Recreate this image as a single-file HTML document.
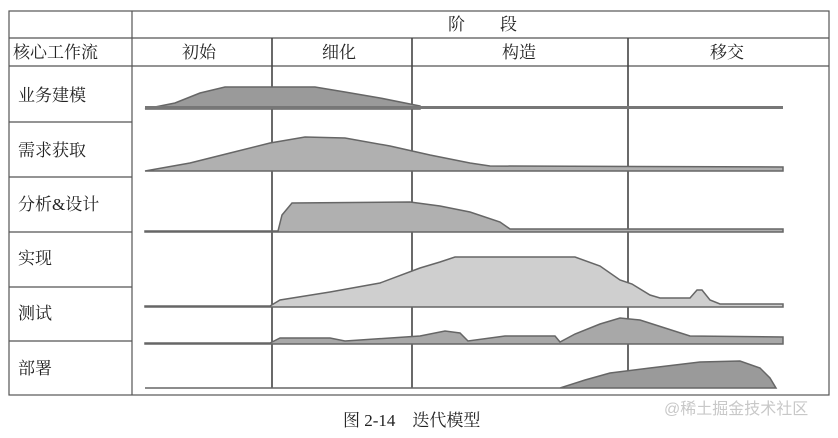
<!DOCTYPE html>
<html><head><meta charset="utf-8"><style>
body{margin:0;background:#fff;width:838px;height:433px;overflow:hidden;font-family:"Liberation Serif","Noto Serif CJK SC",serif}
svg text{font-family:"Liberation Serif","Noto Serif CJK SC",serif;fill:#222}
</style></head><body>
<svg width="838" height="433" viewBox="0 0 838 433">
<g stroke="#555" stroke-width="1.2" fill="none">
<rect x="9" y="11" width="820" height="384"/>
<line x1="132" y1="11" x2="132" y2="395"/>
<line x1="9" y1="38" x2="829" y2="38"/>
<line x1="9" y1="66" x2="829" y2="66"/>
<line x1="9" y1="122" x2="132" y2="122"/>
<line x1="9" y1="177" x2="132" y2="177"/>
<line x1="9" y1="232" x2="132" y2="232"/>
<line x1="9" y1="287" x2="132" y2="287"/>
<line x1="9" y1="341" x2="132" y2="341"/>
</g>
<g stroke="#444" stroke-width="1.6">
<line x1="272" y1="38" x2="272" y2="388"/>
<line x1="412" y1="38" x2="412" y2="388"/>
<line x1="628" y1="38" x2="628" y2="388"/>
</g>
<g font-size="17">
<text x="448" y="30">阶</text><text x="500" y="30">段</text>
<text x="13" y="58">核心工作流</text>
<text x="182" y="58">初始</text><text x="322" y="58">细化</text>
<text x="502" y="58">构造</text><text x="710" y="58">移交</text>
<text x="18" y="101">业务建模</text>
<text x="18" y="156">需求获取</text>
<text x="18" y="210">分析&amp;设计</text>
<text x="18" y="264">实现</text>
<text x="18" y="319">测试</text>
<text x="18" y="374">部署</text>
</g>
<g fill="#9a9a9a" stroke="#666" stroke-width="1.5">
<path d="M145 109 L175 103 L200 93 L225 87 L315 87 L345 92 L380 98 L420 106 L420 109 Z"/>
<rect x="145" y="106" width="638" height="3" stroke="none" fill="#777"/>
<path d="M145 171 L190 163 L230 153 L270 143 L305 137 L345 138 L390 146 L430 155 L470 163 L490 166 L783 167 L783 171 Z" fill="#b0b0b0"/>
<path d="M145 231 L278 231 L282 215 L292 203 L410 202 L440 206 L470 212 L500 222 L510 229 L783 229 L783 232 L145 232 Z" fill="#b0b0b0"/>
<path d="M145 306 L270 306 L280 300 L330 292 L380 283 L420 268 L440 262 L455 257 L575 257 L600 266 L620 280 L632 284 L650 295 L660 298 L690 298 L697 290 L702 290 L710 300 L720 304 L783 304 L783 307 L145 307 Z" fill="#cfcfcf"/>
<path d="M145 343 L270 343 L280 338 L330 338 L345 341 L360 340 L420 336 L445 331 L460 333 L468 341 L505 336 L555 336 L560 342 L575 334 L600 324 L620 318 L640 320 L665 328 L690 336 L783 337 L783 344 L145 344 Z" fill="#a8a8a8"/>
<path d="M145 388 L560 388 L585 380 L610 373 L650 368 L700 362 L740 361 L760 368 L770 378 L776 388 Z" fill="#9a9a9a"/>
</g>
<text x="343" y="426" font-size="17">图 2-14　迭代模型</text>
<text x="664" y="414" font-size="16" style="fill:#c8c8c8;font-family:'Liberation Sans','Noto Sans CJK SC',sans-serif">@稀土掘金技术社区</text>
</svg>
</body></html>
